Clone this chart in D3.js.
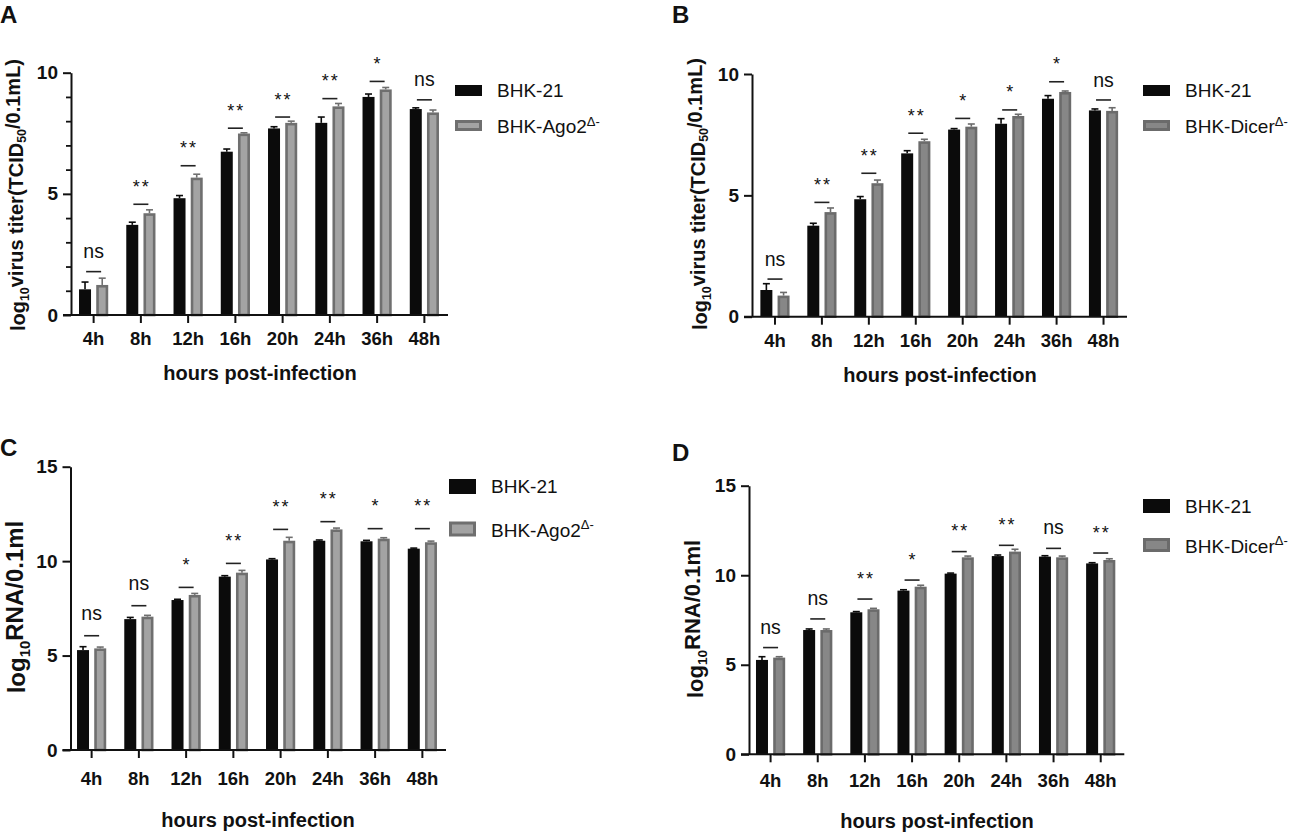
<!DOCTYPE html>
<html>
<head>
<meta charset="utf-8">
<script src="https://cdn.jsdelivr.net/npm/d3@7"></script>
<style>
  html, body { margin: 0; padding: 0; background: #fff; }
  svg { display: block; }
  text { font-family: "Liberation Sans", Arial, Helvetica, sans-serif; fill: #111; }
</style>
</head>
<body>
<svg id="fig" width="1299" height="832"></svg>
<script>
// ---------------- data ----------------
const categories = ["4h", "8h", "12h", "16h", "20h", "24h", "36h", "48h"];

// Panel A: virus titer, BHK-21 vs BHK-Ago2
const titerBHK_A     = [1.06, 3.72, 4.82, 6.74, 7.70, 7.93, 9.00, 8.50];
const titerBHK_A_sd  = [0.30, 0.11, 0.11, 0.11, 0.07, 0.24, 0.12, 0.05];
const titerAgo2      = [1.24, 4.20, 5.67, 7.49, 7.93, 8.61, 9.31, 8.36];
const titerAgo2_sd   = [0.28, 0.14, 0.14, 0.03, 0.07, 0.12, 0.08, 0.10];
const sigA           = ["ns", "**", "**", "**", "**", "**", "*", "ns"];
const sigLevelA      = [1.79, 4.57, 6.16, 7.71, 8.17, 8.93, 9.64, 8.88];

// Panel B: virus titer, BHK-21 vs BHK-Dicer
const titerBHK_B     = [1.10, 3.75, 4.84, 6.73, 7.71, 7.95, 8.98, 8.50];
const titerBHK_B_sd  = [0.26, 0.10, 0.11, 0.11, 0.04, 0.21, 0.13, 0.06];
const titerDicer     = [0.87, 4.31, 5.50, 7.23, 7.83, 8.27, 9.26, 8.48];
const titerDicer_sd  = [0.13, 0.17, 0.13, 0.08, 0.11, 0.07, 0.04, 0.13];
const sigB           = ["ns", "**", "**", "**", "*", "*", "*", "ns"];
const sigLevelB      = [1.55, 4.71, 5.91, 7.56, 8.17, 8.52, 9.68, 8.93];

// Panel C: RNA, BHK-21 vs BHK-Ago2
const rnaBHK_C       = [5.29, 6.93, 7.94, 9.18, 10.09, 11.08, 11.05, 10.66];
const rnaBHK_C_sd    = [0.18, 0.09, 0.04, 0.05, 0.04, 0.04, 0.05, 0.03];
const rnaAgo2        = [5.38, 7.06, 8.21, 9.39, 11.08, 11.68, 11.19, 11.00];
const rnaAgo2_sd     = [0.07, 0.07, 0.08, 0.12, 0.18, 0.07, 0.05, 0.06];
const sigC           = ["ns", "ns", "*", "**", "**", "**", "*", "**"];
const sigLevelC      = [6.05, 7.64, 8.61, 9.88, 11.68, 12.09, 11.72, 11.72];

// Panel D: RNA, BHK-21 vs BHK-Dicer
const rnaBHK_D       = [5.27, 6.94, 7.93, 9.14, 10.09, 11.07, 11.04, 10.66];
const rnaBHK_D_sd    = [0.18, 0.06, 0.04, 0.05, 0.03, 0.06, 0.05, 0.04];
const rnaDicer       = [5.40, 6.94, 8.10, 9.36, 11.00, 11.32, 11.00, 10.85];
const rnaDicer_sd    = [0.05, 0.06, 0.05, 0.08, 0.07, 0.13, 0.07, 0.07];
const sigD           = ["ns", "ns", "**", "*", "**", "**", "ns", "**"];
const sigLevelD      = [5.96, 7.56, 8.67, 9.73, 11.32, 11.67, 11.50, 11.24];

const seriesNames = ["BHK-21", "BHK-Ago2", "BHK-Dicer"];
const yTicksTiter = [0, 5, 10];
const yMinorTiter = [1, 2, 3, 4, 6, 7, 8, 9];
const yTicksRNA   = [0, 5, 10, 15];

// ---------------- layout ----------------
const panels = [
  { letter: "A", lx: 0, ly: 23, axisX: 71, xr: [70, 448], y0: 315, yTop: 72.7, ymax: 10,
    ticks: yTicksTiter, minor: yMinorTiter,
    a: titerBHK_A, asd: titerBHK_A_sd, b: titerAgo2, bsd: titerAgo2_sd, sig: sigA, sigLv: sigLevelA,
    ylab: ["log", "10", "virus titer(TCID", "50", "/0.1mL)"], ylabSize: 20, ylabX: 18, ylabY: 195,
    xlabX: 260, xlabY: 380, tickY: 345,
    legX: 455, legY1: 85, legY2: 120, legH: 11, legName: seriesNames[1],
    grayStroke: "#6f6f6f", grayFill: "#a3a3a3", nsGap: 19, starGap: 22 },
  { letter: "B", lx: 672, ly: 23, axisX: 752, xr: [751.5, 1127], y0: 316.7, yTop: 74, ymax: 10,
    ticks: yTicksTiter, minor: null,
    a: titerBHK_B, asd: titerBHK_B_sd, b: titerDicer, bsd: titerDicer_sd, sig: sigB, sigLv: sigLevelB,
    ylab: ["log", "10", "virus titer(TCID", "50", "/0.1mL)"], ylabSize: 20, ylabX: 700, ylabY: 194,
    xlabX: 940, xlabY: 382, tickY: 347,
    legX: 1143, legY1: 85, legY2: 120, legH: 11, legName: seriesNames[2],
    grayStroke: "#6b6b6b", grayFill: "#878787", nsGap: 18, starGap: 22 },
  { letter: "C", lx: 0, ly: 456, axisX: 70.5, xr: [68, 446], y0: 750, yTop: 466.7, ymax: 15,
    ticks: yTicksRNA, minor: null,
    a: rnaBHK_C, asd: rnaBHK_C_sd, b: rnaAgo2, bsd: rnaAgo2_sd, sig: sigC, sigLv: sigLevelC,
    ylab: ["log", "10", "RNA/0.1ml"], ylabSize: 24, ylabX: 17, ylabY: 607,
    xlabX: 258, xlabY: 827, tickY: 785,
    legX: 449, legY1: 479, legY2: 521.5, legH: 15, legName: seriesNames[1],
    grayStroke: "#6f6f6f", grayFill: "#a3a3a3", nsGap: 21, starGap: 27 },
  { letter: "D", lx: 672, ly: 461, axisX: 749, xr: [747, 1124.3], y0: 754.3, yTop: 485.7, ymax: 15,
    ticks: yTicksRNA, minor: null,
    a: rnaBHK_D, asd: rnaBHK_D_sd, b: rnaDicer, bsd: rnaDicer_sd, sig: sigD, sigLv: sigLevelD,
    ylab: ["log", "10", "RNA/0.1ml"], ylabSize: 22, ylabX: 695, ylabY: 619,
    xlabX: 937, xlabY: 828, tickY: 787,
    legX: 1143, legY1: 499, legY2: 538, legH: 14, legName: seriesNames[2],
    grayStroke: "#6b6b6b", grayFill: "#878787", nsGap: 19, starGap: 25 }
];

const svg = d3.select("#fig");
const INK = "#111";
const BAR_W = 12, OFF = 8.6;

panels.forEach(p => {
  const g = svg.append("g");
  const x = d3.scaleBand().domain(categories).range(p.xr);
  const y = d3.scaleLinear().domain([0, p.ymax]).range([p.y0, p.yTop]);
  const cx = c => x(c) + x.bandwidth() / 2;

  // panel letter
  g.append("text").attr("x", p.lx).attr("y", p.ly)
    .style("font-size", "24px").style("font-weight", "bold").text(p.letter);

  const rows = categories.map((c, i) => ({ c, i }));
  // black series
  g.selectAll(".barA").data(rows).join("rect")
    .attr("x", d => cx(d.c) - OFF - BAR_W / 2).attr("width", BAR_W)
    .attr("y", d => y(p.a[d.i])).attr("height", d => y(0) - y(p.a[d.i]))
    .attr("fill", "#0b0b0b");
  // gray series (outlined)
  const sw = 2.6;
  g.selectAll(".barB").data(rows).join("rect")
    .attr("x", d => cx(d.c) + OFF - BAR_W / 2 + sw / 2).attr("width", BAR_W - sw)
    .attr("y", d => y(p.b[d.i]) + sw / 2).attr("height", d => Math.max(0, y(0) - y(p.b[d.i]) - sw / 2))
    .attr("fill", p.grayFill).attr("stroke", p.grayStroke).attr("stroke-width", sw);

  // error bars
  const err = (vals, sds, dx, col, w) => {
    rows.forEach(d => {
      const xc = cx(d.c) + dx, yt = y(vals[d.i] + sds[d.i]), yb = y(vals[d.i]);
      g.append("line").attr("x1", xc).attr("x2", xc).attr("y1", yb).attr("y2", yt)
        .attr("stroke", col).attr("stroke-width", 1.6);
      g.append("line").attr("x1", xc - w).attr("x2", xc + w).attr("y1", yt).attr("y2", yt)
        .attr("stroke", col).attr("stroke-width", 1.6);
    });
  };
  err(p.a, p.asd, -OFF, "#0b0b0b", 3.5);
  err(p.b, p.bsd, OFF, p.grayStroke, 3.5);

  // significance lines + labels
  rows.forEach(d => {
    const ys = y(p.sigLv[d.i]);
    g.append("line").attr("x1", cx(d.c) - 7.5).attr("x2", cx(d.c) + 7.5)
      .attr("y1", ys).attr("y2", ys).attr("stroke", "#222").attr("stroke-width", 1.6);
    const lab = p.sig[d.i];
    if (lab === "ns") {
      g.append("text").attr("x", cx(d.c)).attr("y", ys - p.nsGap + 5)
        .attr("text-anchor", "middle").style("font-size", "19.5px").text(lab);
    } else {
      g.append("text").attr("x", cx(d.c) + 1).attr("y", ys - p.starGap + 10.5)
        .attr("text-anchor", "middle").style("font-size", "18px").style("letter-spacing", "2px")
        .text(lab);
    }
  });

  // y axis
  const ya = g.append("g").attr("transform", `translate(${p.axisX},0)`)
    .call(d3.axisLeft(y).tickValues(p.ticks).tickSize(8).tickPadding(5).tickSizeOuter(0));
  ya.select(".domain").attr("stroke", INK).attr("stroke-width", 2);
  ya.selectAll(".tick line").attr("stroke", INK).attr("stroke-width", 2);
  ya.selectAll(".tick text").style("font-size", "19px").style("font-weight", "bold")
    .style("font-family", "'Liberation Sans', Arial, sans-serif").attr("fill", INK);
  if (p.minor) {
    const ym = g.append("g").attr("transform", `translate(${p.axisX},0)`)
      .call(d3.axisLeft(y).tickValues(p.minor).tickSize(5).tickFormat(""));
    ym.select(".domain").remove();
    ym.selectAll(".tick line").attr("stroke", INK).attr("stroke-width", 1.8);
  }

  // x axis
  const xa = g.append("g").attr("transform", `translate(0,${p.y0})`)
    .call(d3.axisBottom(x).tickSize(8).tickPadding(10).tickSizeOuter(0));
  xa.select(".domain").remove();
  xa.selectAll(".tick line").attr("stroke", INK).attr("stroke-width", 2);
  xa.selectAll(".tick text").attr("dy", null).attr("y", p.tickY - p.y0)
    .style("font-size", "18.5px").style("font-weight", "bold")
    .style("font-family", "'Liberation Sans', Arial, sans-serif").attr("fill", INK);
  g.append("line").attr("x1", p.axisX - 8).attr("x2", p.xr[1])
    .attr("y1", p.y0).attr("y2", p.y0).attr("stroke", INK).attr("stroke-width", 2);

  // axis titles
  g.append("text").attr("x", p.xlabX).attr("y", p.xlabY).attr("text-anchor", "middle")
    .style("font-size", "20px").style("font-weight", "bold").text("hours post-infection");

  const yl = g.append("text")
    .attr("transform", `translate(${p.ylabX},${p.ylabY}) rotate(-90)`)
    .attr("text-anchor", "middle").attr("dy", "0.35em")
    .style("font-size", p.ylabSize + "px").style("font-weight", "bold");
  p.ylab.forEach((s, k) => {
    const sub = k % 2 === 1;
    yl.append("tspan").text(s)
      .attr("dy", sub ? "0.3em" : (k === 0 ? null : "-0.3em"))
      .style("font-size", sub ? (p.ylabSize * 0.62) + "px" : null);
  });

  // legend
  g.append("rect").attr("x", p.legX).attr("y", p.legY1).attr("width", 27).attr("height", p.legH)
    .attr("fill", "#0b0b0b");
  g.append("rect").attr("x", p.legX + 1.5).attr("y", p.legY2 + 1.5).attr("width", 24).attr("height", p.legH - 3)
    .attr("fill", p.grayFill).attr("stroke", p.grayStroke).attr("stroke-width", 3);
  g.append("text").attr("x", p.legX + 42).attr("y", p.legY1 + p.legH / 2).attr("dy", "0.36em")
    .style("font-size", "19px").text(seriesNames[0]);
  const t2 = g.append("text").attr("x", p.legX + 42).attr("y", p.legY2 + p.legH / 2).attr("dy", "0.4em")
    .style("font-size", "19px");
  t2.append("tspan").text(p.legName);
  t2.append("tspan").text("Δ-").attr("dy", "-0.55em").style("font-size", "13px");
});
</script>
</body>
</html>
